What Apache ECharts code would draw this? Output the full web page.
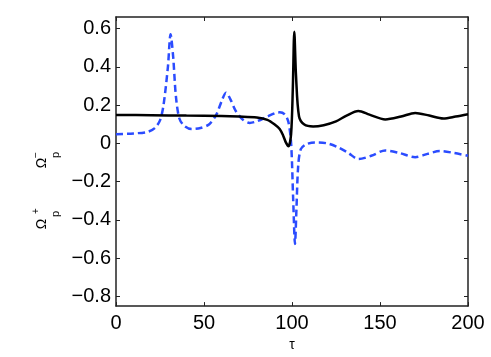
<!DOCTYPE html>
<html>
<head>
<meta charset="utf-8">
<script src="https://cdn.jsdelivr.net/npm/echarts@6/dist/echarts.min.js"></script>
<style>
  html, body { margin: 0; padding: 0; background: #fff; }
  #chart { width: 491px; height: 357px; }
</style>
</head>
<body>
<div id="chart"></div>
<script>
// black solid curve
const tauMinus = [0, 20, 40, 60, 70, 80, 86, 90, 93, 95, 96.5, 98, 99.5, 100.5, 101.3, 102.3, 104, 107, 112, 118, 125, 131, 137.7, 144, 153, 162, 170, 178, 186, 193, 200];
const omegaMinus = [0.148, 0.147, 0.145, 0.143, 0.14, 0.135, 0.123, 0.1, 0.075, 0.04, 0.005, -0.015, 0.05, 0.3, 0.583, 0.35, 0.14, 0.098, 0.088, 0.095, 0.115, 0.145, 0.169, 0.15, 0.125, 0.14, 0.159, 0.145, 0.13, 0.14, 0.152];
// blue dashed curve
const tauPlus = [0, 10, 18, 22, 25, 27, 29.5, 31, 32.5, 34, 36, 39, 43, 48, 53, 57, 60, 62.5, 65, 68, 72, 76, 80, 86, 91, 93, 96, 98, 99.5, 100.7, 101.7, 102.5, 103.5, 105, 108, 113, 120, 126, 132, 137.7, 145, 153, 161, 170, 177, 184, 192, 200];
const omegaPlus = [0.048, 0.052, 0.06, 0.08, 0.12, 0.2, 0.4, 0.57, 0.45, 0.25, 0.13, 0.09, 0.075, 0.08, 0.1, 0.15, 0.22, 0.265, 0.23, 0.17, 0.125, 0.107, 0.115, 0.14, 0.16, 0.162, 0.15, 0.11, 0.0, -0.3, -0.525, -0.35, -0.12, -0.03, -0.005, 0.005, 0.0, -0.02, -0.05, -0.082, -0.065, -0.037, -0.05, -0.072, -0.055, -0.04, -0.05, -0.065];
const yTicks = [-0.8, -0.6, -0.4, -0.2, 0, 0.2, 0.4, 0.6];

const chart = echarts.init(document.getElementById('chart'));
const axisColor = '#222222';
const font = 'Liberation Sans, Arial, sans-serif';

const fmtY = v => (v < 0 ? '\u2212' + String(-v) : String(v));

const option = {
  animation: false,
  grid: { left: 116, right: 23, top: 17, bottom: 41 },
  xAxis: [
    {
      type: 'value', min: 0, max: 200, interval: 50,
      name: 'τ', nameLocation: 'middle', nameGap: 31,
      nameTextStyle: { fontSize: 14, color: '#000', fontFamily: font },
      axisLine: { onZero: false, lineStyle: { color: axisColor, width: 1.5 } },
      axisTick: { inside: true, length: 4, lineStyle: { color: axisColor } },
      axisLabel: { fontSize: 20, color: '#000', fontFamily: font, margin: 7 },
      splitLine: { show: false }
    },
    {
      type: 'value', min: 0, max: 200, interval: 50, position: 'top',
      axisLine: { onZero: false, lineStyle: { color: axisColor, width: 1.5 } },
      axisTick: { inside: true, length: 4, lineStyle: { color: axisColor } },
      axisLabel: { show: false },
      splitLine: { show: false }
    }
  ],
  yAxis: [
    {
      type: 'value', min: -0.85, max: 0.66,
      axisLine: { show: true, onZero: false, lineStyle: { color: axisColor, width: 1.5 } },
      axisTick: { show: true, inside: true, length: 4, customValues: yTicks, lineStyle: { color: axisColor } },
      axisLabel: { fontSize: 20, color: '#000', fontFamily: font, margin: 5, customValues: yTicks, formatter: fmtY },
      splitLine: { show: false }
    },
    {
      type: 'value', min: -0.85, max: 0.66, position: 'right',
      axisLine: { show: true, onZero: false, lineStyle: { color: axisColor, width: 1.5 } },
      axisTick: { show: true, inside: true, length: 4, customValues: yTicks, lineStyle: { color: axisColor } },
      axisLabel: { show: false },
      splitLine: { show: false }
    }
  ],
  series: [
    {
      name: 'Ω_p^-', type: 'line', smooth: 0.3, showSymbol: false,
      data: tauMinus.map((t, i) => [t, omegaMinus[i]]),
      lineStyle: { color: '#000', width: 2.5 },
      z: 3
    },
    {
      name: 'Ω_p^+', type: 'line', smooth: 0.3, showSymbol: false,
      data: tauPlus.map((t, i) => [t, omegaPlus[i]]),
      lineStyle: { color: '#2b4cff', width: 2.5, type: [7, 4] },
      z: 2
    }
  ],
  graphic: [
    // Ω_p^- label (rotated)
    { type: 'text', x: 42, y: 163, rotation: Math.PI / 2, style: { text: 'Ω', fontSize: 14, fontFamily: font, fill: '#000', align: 'center', verticalAlign: 'middle' } },
    { type: 'text', x: 56, y: 155, rotation: Math.PI / 2, style: { text: 'p', fontSize: 11, fontFamily: font, fill: '#000', align: 'center', verticalAlign: 'middle' } },
    { type: 'text', x: 36, y: 155, rotation: Math.PI / 2, style: { text: '\u2212', fontSize: 10, fontFamily: font, fill: '#000', align: 'center', verticalAlign: 'middle' } },
    // Ω_p^+ label (rotated)
    { type: 'text', x: 42, y: 224, rotation: Math.PI / 2, style: { text: 'Ω', fontSize: 14, fontFamily: font, fill: '#000', align: 'center', verticalAlign: 'middle' } },
    { type: 'text', x: 56, y: 214, rotation: Math.PI / 2, style: { text: 'p', fontSize: 11, fontFamily: font, fill: '#000', align: 'center', verticalAlign: 'middle' } },
    { type: 'text', x: 36, y: 211, rotation: Math.PI / 2, style: { text: '+', fontSize: 10, fontFamily: font, fill: '#000', align: 'center', verticalAlign: 'middle' } }
  ]
};

chart.setOption(option);
</script>
</body>
</html>
